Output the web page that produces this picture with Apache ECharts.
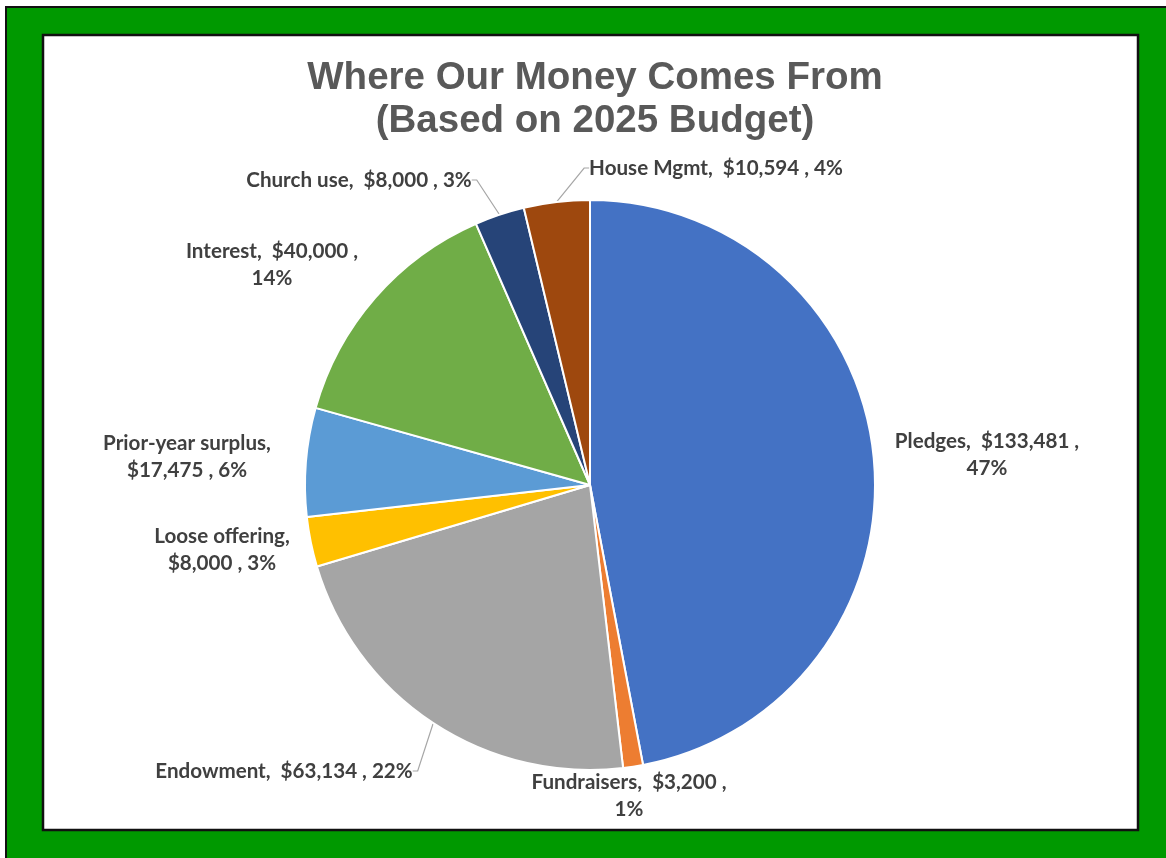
<!DOCTYPE html>
<html>
<head>
<meta charset="utf-8">
<script src="https://cdn.jsdelivr.net/npm/echarts@6/dist/echarts.min.js"></script>
<style>
html,body{margin:0;padding:0;background:#fff;}
#chart{width:1166px;height:858px;}
</style>
</head>
<body>
<div id="chart"></div>
<script>
const titleLines = ['Where Our Money Comes From', '(Based on 2025 Budget)'];
const categories = ['Pledges', 'Fundraisers', 'Endowment', 'Loose offering', 'Prior-year surplus', 'Interest', 'Church use', 'House Mgmt'];
const values = [133481, 3200, 63134, 8000, 17475, 40000, 8000, 10594];
const colors = ['#4472C4', '#ED7D31', '#A5A5A5', '#FFC000', '#5B9BD5', '#70AD47', '#264478', '#9E480E'];

// label styling: where the line break goes and where the label block sits
const labelStyle = {
  'Pledges':            { wrap: 'value', pos: [987, 455], line: false },
  'Fundraisers':        { wrap: 'value', pos: [629, 796], line: false },
  'Endowment':          { wrap: 'none',  pos: [284, 771], line: true },
  'Loose offering':     { wrap: 'name',  pos: [222, 550], line: false },
  'Prior-year surplus': { wrap: 'name',  pos: [187, 457], line: false },
  'Interest':           { wrap: 'value', pos: [272, 265], line: false },
  'Church use':         { wrap: 'none',  pos: [359, 180], line: true },
  'House Mgmt':         { wrap: 'none',  pos: [716, 168], line: true }
};

const chart = echarts.init(document.getElementById('chart'), null, { renderer: 'canvas' });

const data = categories.map((c, i) => ({
  name: c,
  value: values[i],
  itemStyle: { color: colors[i] },
  labelLine: { show: labelStyle[c].line }
}));

chart.setOption({
  animation: false,
  backgroundColor: '#ffffff',
  graphic: [
    { type: 'rect', z: -10, shape: { x: 6, y: 7, width: 1200, height: 900 },
      style: { fill: '#009900', stroke: '#111', lineWidth: 2 } },
    { type: 'rect', z: -9, shape: { x: 43, y: 35, width: 1095, height: 795 },
      style: { fill: '#ffffff', stroke: '#111', lineWidth: 2.5 } }
  ],
  title: {
    text: titleLines.join('\n'),
    left: 590,
    textAlign: 'center',
    top: 52,
    textStyle: {
      fontFamily: 'Liberation Sans, Arial, sans-serif',
      fontWeight: 'bold',
      fontSize: 38.5,
      lineHeight: 43,
      color: '#595959'
    }
  },
  series: [{
    type: 'pie',
    center: [590, 485],
    radius: 285,
    startAngle: 90,
    clockwise: true,
    percentPrecision: 0,
    data: data,
    itemStyle: { borderColor: '#ffffff', borderWidth: 2 },
    label: {
      show: true,
      position: 'outside',
      fontFamily: 'Lato, "Open Sans", sans-serif',
      fontWeight: 'bold',
      fontSize: 20.6,
      lineHeight: 27,
      color: '#404040',
      align: 'center',
      formatter: function (p) {
        const v = '$' + p.value.toLocaleString('en-US');
        const w = labelStyle[p.name].wrap;
        if (w === 'value') return p.name + ',  ' + v + ' ,\n' + p.percent + '%';
        if (w === 'name') return p.name + ',\n' + v + ' , ' + p.percent + '%';
        return p.name + ',  ' + v + ' , ' + p.percent + '%';
      }
    },
    labelLine: {
      lineStyle: { color: '#A6A6A6', width: 1.2 },
      length: 10,
      length2: 5
    },
    labelLayout: function (params) {
      const name = categories[params.dataIndex];
      const pos = labelStyle[name].pos;
      return { x: pos[0], y: pos[1], align: 'center', verticalAlign: 'middle' };
    }
  }]
});
</script>
</body>
</html>
